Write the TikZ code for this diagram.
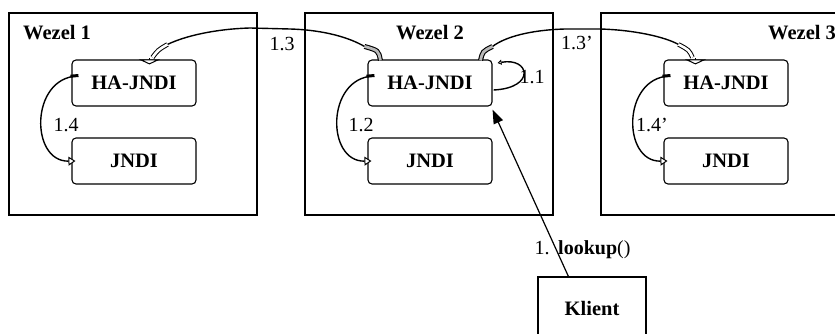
\documentclass[tikz,border=0pt]{standalone}
\usepackage{fontspec}
\setmainfont{Liberation Serif}
\usetikzlibrary{arrows.meta,calc}
\begin{document}
\begin{tikzpicture}[x=1pt,y=-1pt,
  wezel/.style={draw, line width=1.2pt, minimum width=248pt, minimum height=202pt, inner sep=0pt},
  svc/.style={draw, line width=1.1pt, rounded corners=4pt, minimum width=124pt, minimum height=46pt, inner sep=0pt, font=\fontsize{20.5}{24}\selectfont\bfseries},
  ttl/.style={font=\fontsize{20.5}{24}\selectfont\bfseries, inner sep=0pt},
  lbl/.style={font=\fontsize{20}{24}\selectfont, inner sep=0pt},
  conn/.style={line width=1.4pt},
  hollowtip/.style={line width=1pt, -{Triangle[fill=white, length=5pt, width=21pt]}},
  smalltip/.style={-{Triangle[fill=white, length=7pt, width=9pt, line width=1pt]}},
  band/.style={line width=1pt, double=white, double distance=2.6pt},
  greyband/.style={line width=2.8pt, gray!55}
]
\useasboundingbox (0,0) rectangle (835,334);
\clip (0,0) rectangle (835,334);

% Wezel boxes
\node[wezel] (w1) at (133,114) {};
\node[wezel] (w2) at (429,114) {};
\node[wezel] (w3) at (725,114) {};
\node[ttl, anchor=base west] (t1) at (23,40) {Wezel 1};
\node[ttl, anchor=base] (t2) at (430,40) {Wezel 2};
\node[ttl, anchor=base west] (t3) at (768,40) {Wezel 3};

% service boxes
\node[svc] (h1) at (134,83) {HA-JNDI};
\node[svc] (j1) at (134,161) {JNDI};
\node[svc] (h2) at (430,83) {HA-JNDI};
\node[svc] (j2) at (430,161) {JNDI};
\node[svc] (h3) at (726,83) {HA-JNDI};
\node[svc] (j3) at (726,161) {JNDI};

% client
\node[draw, line width=1.2pt, minimum width=108pt, minimum height=64pt, inner sep=0pt,
      font=\fontsize{20.5}{24}\selectfont\bfseries] (kl) at (592,309) {\raisebox{2pt}{Klient}};

% ---- connector 1.3 (Wezel 2 -> Wezel 1)
\coordinate (s13) at ($(h2.north west)+(13,1)$);
\coordinate (g13) at ($(h2.north west)+(-3,-13)$);
\coordinate (e13) at ($(h1.north west)+(96,-15)$);
\coordinate (b13) at ($(h1.north west)+(81,-2)$);
\coordinate (a13) at ($(h1.north west)+(78,-1)$);
\coordinate (t13) at ($(h1.north west)+(78,5)$);
\draw[conn] (g13) .. controls (350,38) and (325,30) .. (290,29) -- (250,28)
  .. controls (215,29) and (185,36) .. (e13);
\draw[line width=5pt] (s13) .. controls ($(s13)+(-2,-10)$) .. (g13);
\draw[greyband] (s13) .. controls ($(s13)+(-2,-10)$) .. (g13);
\draw[band] (e13) .. controls (158,50) .. (b13);
\draw[hollowtip] (a13) -- (t13);

% ---- connector 1.3' (Wezel 2 -> Wezel 3)
\coordinate (s13p) at ($(h2.north east)+(-12,1)$);
\coordinate (g13p) at ($(h2.north east)+(0,-13)$);
\coordinate (e13p) at ($(h3.north west)+(15,-15)$);
\coordinate (b13p) at ($(h3.north west)+(29,-2)$);
\coordinate (a13p) at ($(h3.north west)+(32,-1)$);
\coordinate (t13p) at ($(h3.north west)+(32,5)$);
\draw[conn] (g13p) .. controls (505,37) and (530,30) .. (565,29) -- (600,29)
  .. controls (635,30) and (665,37) .. (e13p);
\draw[line width=5pt] (s13p) .. controls ($(s13p)+(2,-9)$) .. (g13p);
\draw[greyband] (s13p) .. controls ($(s13p)+(2,-9)$) .. (g13p);
\draw[band] (e13p) .. controls (689,50) .. (b13p);
\draw[hollowtip] (a13p) -- (t13p);

% ---- connectors 1.4, 1.2, 1.4'
\draw[conn, smalltip] ($(h1.west)+(6,-7)$) .. controls (30,78) and (30,162) .. ($(j1.west)+(4,0)$);
\draw[line width=3pt] ($(h1.west)+(7,-7.5)$) -- ($(h1.west)+(-1,-6.8)$);
\draw[conn, smalltip] ($(h2.west)+(6,-7)$) .. controls (326,78) and (326,162) .. ($(j2.west)+(4,0)$);
\draw[line width=3pt] ($(h2.west)+(7,-7.5)$) -- ($(h2.west)+(-1,-6.8)$);
\draw[conn, smalltip] ($(h3.west)+(6,-7)$) .. controls (622,78) and (622,162) .. ($(j3.west)+(4,0)$);
\draw[line width=3pt] ($(h3.west)+(7,-7.5)$) -- ($(h3.west)+(-1,-6.8)$);

% ---- self loop 1.1
\draw[conn, -{Triangle[fill=white, length=4pt, width=5pt, line width=0.8pt]}]
  ($(h2.east)+(1,7)$) .. controls (536,88) and (530,57) .. ($(h2.east)+(5,-20)$);

% ---- lookup arrow
\draw[line width=1.2pt, -{Triangle[length=14pt, width=10pt]}]
  ($(kl.north west)+(31,0)$) -- ($(h2.south east)+(0,3)$);

% labels
\node[lbl] (l13) at (282,44) {1.3};
\node[lbl] (l13p) at (577,43) {1.3’};
\node[lbl] (l14) at (66,125) {1.4};
\node[lbl] (l12) at (361,125) {1.2};
\node[lbl] (l14p) at (652,125) {1.4’};
\node[lbl] (l11) at (532,77) {1.1};
\node[lbl, anchor=base] (l1) at (542,254) {1.};
\node[lbl, anchor=base west] (llk) at (558,254) {\textbf{lookup}()};
\end{tikzpicture}
\end{document}
